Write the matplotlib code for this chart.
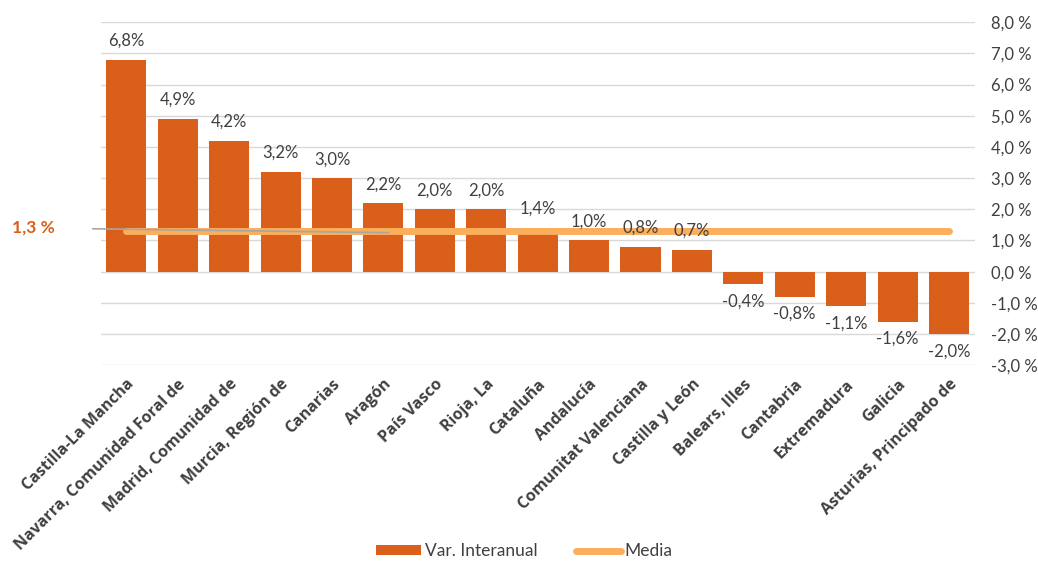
import matplotlib.pyplot as plt
import numpy as np

plt.rcParams['font.family'] = ['Lato', 'DejaVu Sans']

# DATA
regions = ["Castilla-La Mancha", "Navarra, Comunidad Foral de", "Madrid, Comunidad de",
           "Murcia, Región de", "Canarias", "Aragón", "País Vasco", "Rioja, La",
           "Cataluña", "Andalucía", "Comunitat Valenciana", "Castilla y León",
           "Balears, Illes", "Cantabria", "Extremadura", "Galicia",
           "Asturias, Principado de"]
var_interanual = [6.8, 4.9, 4.2, 3.2, 3.0, 2.2, 2.0, 2.0, 1.4, 1.0, 0.8, 0.7,
                  -0.4, -0.8, -1.1, -1.6, -2.0]
media = 1.3
yticks = np.arange(-3, 9, 1)

bar_color = "#D95F1A"
line_color = "#FBAE5C"
text_color = "#404040"

fig = plt.figure(figsize=(10.38, 5.68), dpi=100)
ax = fig.add_axes([0.097, 0.357, 0.842, 0.604])

x = np.arange(len(regions))
bars = ax.bar(x, var_interanual, width=0.78, color=bar_color, zorder=2)
line, = ax.plot([x[0], x[-1]], [media] * 2, color=line_color, lw=5,
                solid_capstyle="round", zorder=3)

# data labels
for xi, v in zip(x, var_interanual):
    txt = f"{v:.1f}%".replace(".", ",")
    if v >= 0:
        ax.text(xi, v + 0.35, txt, ha="center", va="bottom", fontsize=12, color=text_color)
    else:
        ax.text(xi, v - 0.3, txt, ha="center", va="top", fontsize=12, color=text_color)

ax.set_xlim(-0.5, len(regions) - 0.5)
ax.set_ylim(-3, 8)
ax.set_yticks(yticks)
ax.set_yticklabels([f"{t:.1f} %".replace(".", ",") for t in yticks])
ax.yaxis.tick_right()
ax.tick_params(axis="y", length=0, labelsize=12, labelcolor=text_color, pad=12)
ax.grid(axis="y", color="#D9D9D9", lw=1, zorder=0)
for s in ax.spines.values():
    s.set_visible(False)

ax.set_xticks(x)
ax.set_xticklabels(regions, rotation=45, ha="right", rotation_mode="anchor",
                   fontsize=11.5, color=text_color,
                   family=["Open Sans", "DejaVu Sans"], fontweight="bold")
ax.tick_params(axis="x", length=0, pad=8)

# media annotation
ax.annotate("1,3 %", xy=(5.1, 1.25), xytext=(-1.8, 1.4), textcoords="data",
            ha="center", va="center", fontsize=12.5, fontweight="bold", color=bar_color,
            arrowprops=dict(arrowstyle="-", color="#A6A6A6", lw=1.2, shrinkA=25, shrinkB=0),
            annotation_clip=False)

fig.legend([bars, line], ["Var. Interanual", "Media"], loc="lower center",
           bbox_to_anchor=(0.505, -0.012), ncol=2, frameon=False,
           fontsize=12.5, labelcolor=text_color, handlelength=2.6, handleheight=0.5,
           columnspacing=2.2, handletextpad=0.2)

plt.savefig("out.png", dpi=100)
